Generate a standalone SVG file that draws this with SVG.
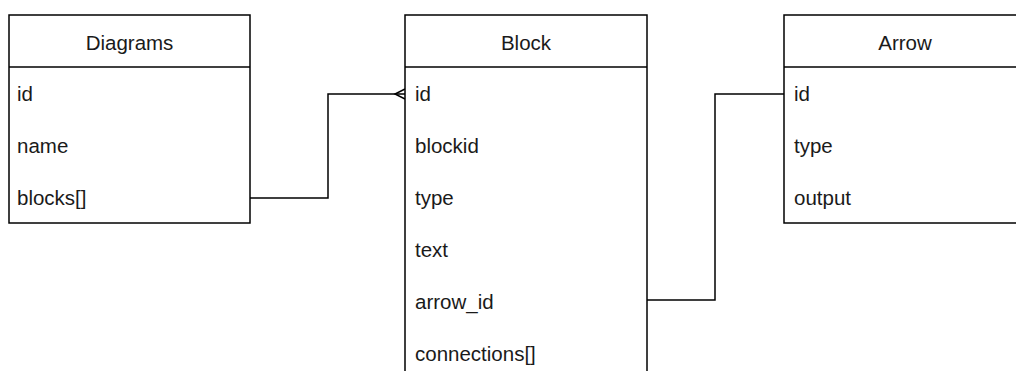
<svg xmlns="http://www.w3.org/2000/svg" width="1016" height="371" viewBox="0 0 1016 371">
<style>
.box{fill:#fff;stroke:#000;stroke-width:1.5}
.sep{stroke:#000;stroke-width:1.5}
.conn{fill:none;stroke:#000;stroke-width:1.5}
.hdr{font-family:"Liberation Sans",Arial,sans-serif;font-size:20.5px;fill:#1a1a1a;text-anchor:middle}
.row{font-family:"Liberation Sans",Arial,sans-serif;font-size:20.5px;fill:#1a1a1a}
</style>
<rect width="1016" height="371" fill="#fff"/>
<g id="connectors">
<path class="conn" d="M250,198 H328 V94 H405"/>
<path class="conn" d="M405,89 L395,94 L405,99"/>
<path class="conn" d="M647,300 H715 V94 H784"/>
</g>
<g id="diagrams">
<rect class="box" x="9" y="15" width="241" height="208"/>
<line class="sep" x1="9" y1="67" x2="250" y2="67"/>
<text class="hdr" x="129.5" y="50">Diagrams</text>
<text class="row" x="17" y="101">id</text>
<text class="row" x="17" y="153">name</text>
<text class="row" x="17" y="205">blocks[]</text>
</g>
<g id="block">
<rect class="box" x="405" y="15" width="242" height="380"/>
<line class="sep" x1="405" y1="67" x2="647" y2="67"/>
<text class="hdr" x="526" y="50">Block</text>
<text class="row" x="415" y="101">id</text>
<text class="row" x="415" y="153">blockid</text>
<text class="row" x="415" y="205">type</text>
<text class="row" x="415" y="257">text</text>
<text class="row" x="415" y="309">arrow_id</text>
<text class="row" x="415" y="361">connections[]</text>
</g>
<g id="arrow">
<rect class="box" x="784" y="15" width="250" height="208"/>
<line class="sep" x1="784" y1="67" x2="1034" y2="67"/>
<text class="hdr" x="905" y="50">Arrow</text>
<text class="row" x="794" y="101">id</text>
<text class="row" x="794" y="153">type</text>
<text class="row" x="794" y="205">output</text>
</g>
</svg>
